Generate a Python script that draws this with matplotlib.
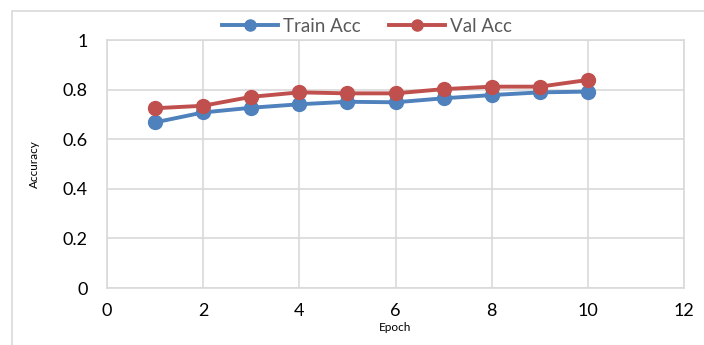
import matplotlib.pyplot as plt
from matplotlib.patches import Rectangle

epochs = [1, 2, 3, 4, 5, 6, 7, 8, 9, 10]
train_acc = [0.668, 0.708, 0.727, 0.741, 0.751, 0.749, 0.765, 0.778, 0.789, 0.792]
val_acc = [0.725, 0.735, 0.771, 0.789, 0.785, 0.785, 0.802, 0.812, 0.812, 0.839]

plt.rcParams['font.family'] = ['Lato', 'DejaVu Sans']

fig = plt.figure(figsize=(7.04, 3.45), dpi=100)
ax = fig.add_axes([0.152, 0.165, 0.8196, 0.719])

# chart frame
fig.patches.append(Rectangle((12 / 704, -0.1), 1.0, (345 - 11) / 345 + 0.1,
                             transform=fig.transFigure, fill=False,
                             edgecolor='#d9d9d9', lw=1.2))

ax.plot(epochs, train_acc, color='#4f81bd', lw=2.8, marker='o', ms=10,
        label='Train Acc', zorder=3)
ax.plot(epochs, val_acc, color='#c0504d', lw=2.8, marker='o', ms=10,
        label='Val Acc', zorder=4)

ax.set_xlim(0, 12)
ax.set_ylim(0, 1)
ax.set_xticks(range(0, 13, 2))
ax.set_yticks([0, 0.2, 0.4, 0.6, 0.8, 1])
ax.set_yticklabels(['0', '0.2', '0.4', '0.6', '0.8', '1'])
ax.grid(True, color='#d9d9d9', lw=1.2)
ax.set_axisbelow(True)
for s in ax.spines.values():
    s.set_color('#d9d9d9')
    s.set_linewidth(1.2)
ax.tick_params(length=0, labelsize=13, colors='#000000')
ax.tick_params(axis='y', pad=14)
ax.tick_params(axis='x', pad=11)

ax.set_xlabel('Epoch', fontsize=8.5, labelpad=2)
ax.set_ylabel('Accuracy', fontsize=8.5, labelpad=16)

leg = ax.legend(loc='center', bbox_to_anchor=(0.45, 1.055), ncol=2, frameon=False,
                fontsize=13.5, handlelength=3.0, columnspacing=1.5,
                handletextpad=0.25, borderaxespad=0)
for t in leg.get_texts():
    t.set_color('#595959')
for h in leg.legend_handles:
    h.set_markersize(8)

fig.savefig('out.png', dpi=100)
